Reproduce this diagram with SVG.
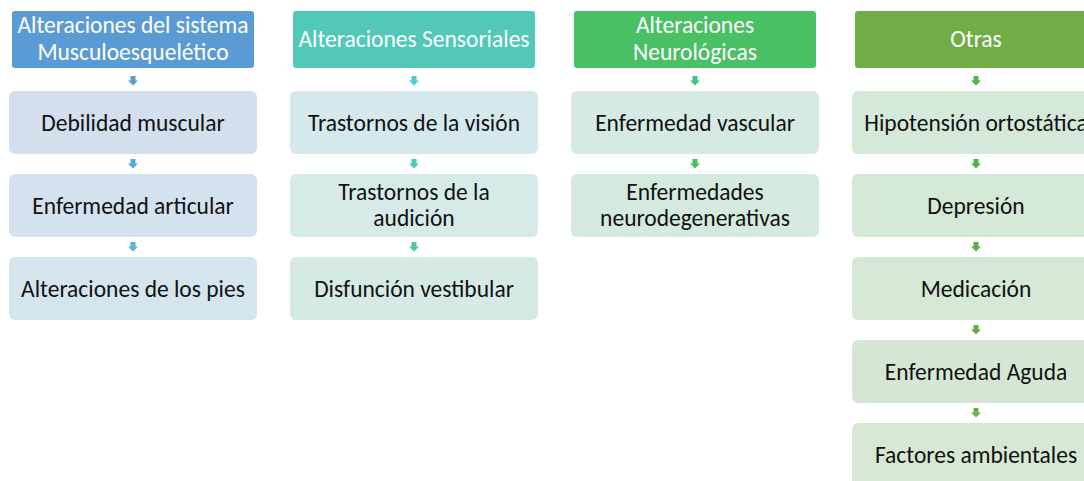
<svg xmlns="http://www.w3.org/2000/svg" width="1084" height="481" viewBox="0 0 1084 481">
<style>
.hd{font-family:Carlito,Lato,"Liberation Sans",sans-serif;font-size:23.5px;fill:#fff;text-anchor:middle}
.tx{font-family:Carlito,Lato,"Liberation Sans",sans-serif;font-size:23.5px;fill:#111;text-anchor:middle}
</style>
<defs>
<path id="arr" d="M-2.5,0 h5 v4.5 h2.5 l-5,5 l-5,-5 h2.5 z"/>
</defs>
<rect width="1084" height="481" fill="#fff"/>
<g id="connectors">
<use href="#arr" x="133" y="76" fill="#5B9BD5"/>
<use href="#arr" x="133" y="159" fill="#55A9D6"/>
<use href="#arr" x="133" y="242" fill="#4FB8D3"/>
<use href="#arr" x="414" y="76" fill="#4FC9CC"/>
<use href="#arr" x="414" y="159" fill="#4FC9B4"/>
<use href="#arr" x="414" y="242" fill="#4FC9A0"/>
<use href="#arr" x="695" y="76" fill="#4AC080"/>
<use href="#arr" x="695" y="159" fill="#4AC065"/>
<use href="#arr" x="976" y="76" fill="#4AB84E"/>
<use href="#arr" x="976" y="159" fill="#52B04A"/>
<use href="#arr" x="976" y="242" fill="#5EAE48"/>
<use href="#arr" x="976" y="325" fill="#66AD47"/>
<use href="#arr" x="976" y="408" fill="#70AD47"/>
</g>
<g id="h1"><rect x="12" y="11" width="242" height="57" rx="3" fill="#5B9BD5"/><text class="hd" x="133" y="33">Alteraciones del sistema</text><text class="hd" x="133" y="60">Musculoesquelético</text></g>
<g id="h2"><rect x="293" y="11" width="242" height="57" rx="3" fill="#52C9B8"/><text class="hd" x="414" y="47">Alteraciones Sensoriales</text></g>
<g id="h3"><rect x="574" y="11" width="242" height="57" rx="3" fill="#4AC065"/><text class="hd" x="695" y="33">Alteraciones</text><text class="hd" x="695" y="60">Neurológicas</text></g>
<g id="h4"><rect x="855" y="11" width="242" height="57" rx="3" fill="#70AD47"/><text class="hd" x="976" y="47">Otras</text></g>

<g id="c1a"><rect x="9" y="91" width="248" height="63" rx="6" fill="#D4DFEE"/><text class="tx" x="133" y="131">Debilidad muscular</text></g>
<g id="c1b"><rect x="9" y="174" width="248" height="63" rx="6" fill="#D4E1EE"/><text class="tx" x="133" y="214">Enfermedad articular</text></g>
<g id="c1c"><rect x="9" y="257" width="248" height="63" rx="6" fill="#D4E5EE"/><text class="tx" x="133" y="297">Alteraciones de los pies</text></g>

<g id="c2a"><rect x="290" y="91" width="248" height="63" rx="6" fill="#D5E9EC"/><text class="tx" x="414" y="131">Trastornos de la visión</text></g>
<g id="c2b"><rect x="290" y="174" width="248" height="63" rx="6" fill="#D5EAE9"/><text class="tx" x="414" y="200">Trastornos de la</text><text class="tx" x="414" y="226">audición</text></g>
<g id="c2c"><rect x="290" y="257" width="248" height="63" rx="6" fill="#D5EAE5"/><text class="tx" x="414" y="297">Disfunción vestibular</text></g>

<g id="c3a"><rect x="571" y="91" width="248" height="63" rx="6" fill="#D4EAE2"/><text class="tx" x="695" y="131">Enfermedad vascular</text></g>
<g id="c3b"><rect x="571" y="174" width="248" height="63" rx="6" fill="#D4EADE"/><text class="tx" x="695" y="200">Enfermedades</text><text class="tx" x="695" y="226">neurodegenerativas</text></g>

<g id="c4a"><rect x="852" y="91" width="248" height="63" rx="6" fill="#D4E9DA"/><text class="tx" x="976" y="131">Hipotensión ortostática</text></g>
<g id="c4b"><rect x="852" y="174" width="248" height="63" rx="6" fill="#D4E8D8"/><text class="tx" x="976" y="214">Depresión</text></g>
<g id="c4c"><rect x="852" y="257" width="248" height="63" rx="6" fill="#D5E8D6"/><text class="tx" x="976" y="297">Medicación</text></g>
<g id="c4d"><rect x="852" y="340" width="248" height="63" rx="6" fill="#D5E7D4"/><text class="tx" x="976" y="380">Enfermedad Aguda</text></g>
<g id="c4e"><rect x="852" y="423" width="248" height="63" rx="6" fill="#D6E7D3"/><text class="tx" x="976" y="463">Factores ambientales</text></g>
</svg>
